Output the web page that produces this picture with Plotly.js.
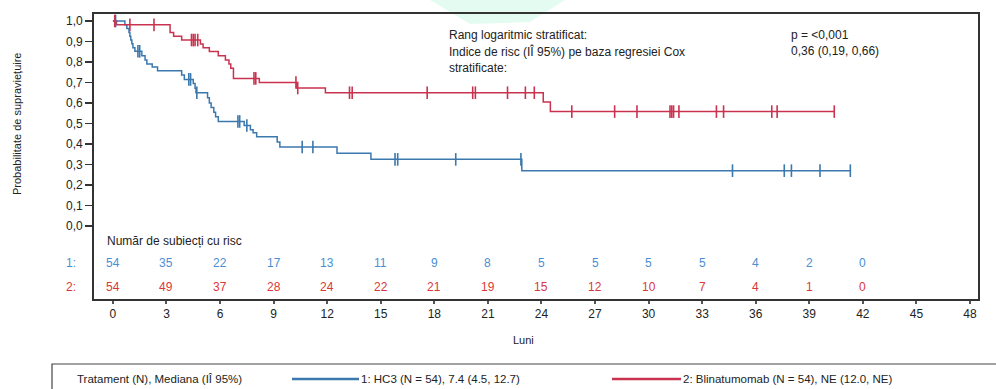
<!DOCTYPE html>
<html>
<head>
<meta charset="utf-8">
<script src="https://cdn.plot.ly/plotly-3.0.1.min.js"></script>
<style>html,body{margin:0;padding:0;background:#fff;}#chart{width:996px;height:389px;}</style>
</head>
<body>
<div id="chart"></div>
<script>
// ---- Data ----
const hc3Times = [0, 0.67, 0.78, 0.9, 0.95, 1.0, 1.06, 1.12, 1.23, 1.62, 1.8, 1.9, 2.2, 2.5, 3.85, 4.0, 4.5, 4.6, 4.65, 5.3, 5.4, 5.5, 5.65, 5.75, 5.9, 7.35, 7.7, 7.85, 8.05, 9.2, 9.35, 12.55, 14.45, 22.9, 41.3];
const hc3Surv  = [1.0, 0.981, 0.963, 0.944, 0.926, 0.907, 0.889, 0.870, 0.852, 0.830, 0.810, 0.790, 0.775, 0.757, 0.737, 0.715, 0.695, 0.672, 0.650, 0.625, 0.600, 0.578, 0.555, 0.533, 0.510, 0.490, 0.470, 0.455, 0.435, 0.410, 0.385, 0.355, 0.325, 0.270, 0.270];
const hc3Censor = [0.15, 1.4, 1.5, 4.25, 4.35, 4.7, 7.0, 7.1, 7.5, 10.6, 11.2, 15.8, 15.95, 19.2, 22.85, 34.7, 37.6, 38.0, 39.6, 41.3];

const blinTimes = [0, 0.2, 3.2, 3.4, 3.85, 4.9, 5.05, 5.4, 5.9, 6.3, 6.5, 6.6, 6.75, 8.2, 10.3, 11.9, 24.1, 24.5, 40.4];
const blinSurv  = [1.0, 0.981, 0.944, 0.925, 0.907, 0.888, 0.870, 0.851, 0.830, 0.810, 0.790, 0.770, 0.720, 0.700, 0.673, 0.650, 0.605, 0.558, 0.558];
const blinCensor = [0.1, 0.95, 2.3, 4.4, 4.5, 4.6, 4.75, 7.9, 8.0, 10.25, 10.35, 13.25, 13.4, 17.6, 20.15, 20.3, 22.1, 23.1, 23.6, 25.7, 28.1, 29.35, 31.2, 31.3, 31.4, 31.7, 33.8, 34.2, 36.9, 37.2, 40.4];

const riskTimes = [0, 3, 6, 9, 12, 15, 18, 21, 24, 27, 30, 33, 36, 39, 42];
const riskHC3  = [54, 35, 22, 17, 13, 11, 9, 8, 5, 5, 5, 5, 4, 2, 0];
const riskBlin = [54, 49, 37, 28, 24, 22, 21, 19, 15, 12, 10, 7, 4, 1, 0];

const xTicks = [0, 3, 6, 9, 12, 15, 18, 21, 24, 27, 30, 33, 36, 39, 42, 45, 48];
const yTicks = [0, 0.1, 0.2, 0.3, 0.4, 0.5, 0.6, 0.7, 0.8, 0.9, 1.0];

const seriesNames = ['1: HC3 (N = 54), 7.4 (4.5, 12.7)', '2: Blinatumomab (N = 54), NE (12.0, NE)'];
const legendTitle = 'Tratament (N), Mediana (IÎ 95%)';
const statsLeft = ['Rang logaritmic stratificat:', 'Indice de risc (IÎ 95%) pe baza regresiei Cox', 'stratificate:'];
const statsRight = ['p = <0,001', '0,36 (0,19, 0,66)'];
const riskTitle = 'Număr de subiecți cu risc';
const rowLabels = ['1:', '2:'];
const xTitle = 'Luni';
const yTitle = 'Probabilitate de supraviețuire';

// ---- Styles ----
const BLUE = '#3b78ad';
const RED = '#c9334f';
const BLUE_TXT = '#4a8fd2';
const RED_TXT = '#d93838';
const FONT = 'Liberation Sans, Arial, sans-serif';
const NARROW = 'Liberation Sans Narrow, Arial Narrow, Liberation Sans, sans-serif';

function survAt(times, surv, t) {
  let v = surv[0];
  for (let i = 0; i < times.length; i++) { if (times[i] <= t) v = surv[i]; }
  return v;
}

const traces = [
  {x: hc3Times, y: hc3Surv, mode: 'lines', line: {shape: 'hv', color: BLUE, width: 1.5}, name: seriesNames[0], showlegend: false, hoverinfo: 'skip'},
  {x: blinTimes, y: blinSurv, mode: 'lines', line: {shape: 'hv', color: RED, width: 1.5}, name: seriesNames[1], showlegend: false, hoverinfo: 'skip'},
  {x: hc3Censor, y: hc3Censor.map(t => survAt(hc3Times, hc3Surv, t)), mode: 'markers', marker: {symbol: 'line-ns-open', size: 9, color: BLUE, line: {width: 1.6, color: BLUE}}, showlegend: false, hoverinfo: 'skip'},
  {x: blinCensor, y: blinCensor.map(t => survAt(blinTimes, blinSurv, t)), mode: 'markers', marker: {symbol: 'line-ns-open', size: 9, color: RED, line: {width: 1.6, color: RED}}, showlegend: false, hoverinfo: 'skip'}
];

// plot area in pixels: x 94..978, y 14..299
const L = 94, T = 14, W = 884, H = 285;
const px = v => (v - L) / W;
const py = v => (T + H - v) / H;

const annotations = [];
statsLeft.forEach((s, i) => annotations.push({xref: 'paper', yref: 'paper', x: px(447), y: py(35 + i * 16.5), text: s, showarrow: false, xanchor: 'left', yanchor: 'middle', font: {family: FONT, size: 12, color: '#222'}}));
statsRight.forEach((s, i) => annotations.push({xref: 'paper', yref: 'paper', x: px(789), y: py(35 + i * 16.5), text: s, showarrow: false, xanchor: 'left', yanchor: 'middle', font: {family: FONT, size: 12, color: '#222'}}));

annotations.push({xref: 'paper', yref: 'paper', x: px(105), y: py(241), text: riskTitle, showarrow: false, xanchor: 'left', yanchor: 'middle', font: {family: FONT, size: 12, color: '#222'}});
annotations.push({xref: 'paper', yref: 'paper', x: px(78), y: py(263), text: rowLabels[0], showarrow: false, xanchor: 'right', yanchor: 'middle', font: {family: FONT, size: 12, color: BLUE_TXT}});
annotations.push({xref: 'paper', yref: 'paper', x: px(78), y: py(287), text: rowLabels[1], showarrow: false, xanchor: 'right', yanchor: 'middle', font: {family: FONT, size: 12, color: RED_TXT}});
riskTimes.forEach((t, i) => {
  annotations.push({xref: 'x', yref: 'paper', x: t, y: py(263), text: String(riskHC3[i]), showarrow: false, xanchor: 'center', yanchor: 'middle', font: {family: FONT, size: 12, color: BLUE_TXT}});
  annotations.push({xref: 'x', yref: 'paper', x: t, y: py(287), text: String(riskBlin[i]), showarrow: false, xanchor: 'center', yanchor: 'middle', font: {family: FONT, size: 12, color: RED_TXT}});
});

annotations.push({xref: 'paper', yref: 'paper', x: px(523), y: py(340), text: xTitle, showarrow: false, xanchor: 'center', yanchor: 'middle', font: {family: FONT, size: 11, color: '#222'}});
annotations.push({xref: 'paper', yref: 'paper', x: px(17), y: py(124), text: yTitle, textangle: -90, showarrow: false, xanchor: 'center', yanchor: 'middle', font: {family: NARROW, size: 11, color: '#222'}});

// legend box contents
annotations.push({xref: 'paper', yref: 'paper', x: px(75), y: py(379), text: legendTitle, showarrow: false, xanchor: 'left', yanchor: 'middle', font: {family: NARROW, size: 11.5, color: '#222'}});
annotations.push({xref: 'paper', yref: 'paper', x: px(359), y: py(379), text: seriesNames[0], showarrow: false, xanchor: 'left', yanchor: 'middle', font: {family: NARROW, size: 11.5, color: '#222'}});
annotations.push({xref: 'paper', yref: 'paper', x: px(681), y: py(379), text: seriesNames[1], showarrow: false, xanchor: 'left', yanchor: 'middle', font: {family: NARROW, size: 11.5, color: '#222'}});

const shapes = [
  {type: 'path', xref: 'paper', yref: 'paper', layer: 'below', path: `M ${px(430)} ${py(0)} L ${px(565)} ${py(0)} L ${px(530)} ${py(22)} L ${px(470)} ${py(24)} Z`, fillcolor: 'rgba(205,247,232,0.55)', line: {width: 0}},
  {type: 'rect', xref: 'paper', yref: 'paper', x0: px(52), x1: px(1005), y0: py(364), y1: py(400), line: {color: '#444', width: 1.2}, fillcolor: 'rgba(0,0,0,0)'},
  {type: 'line', xref: 'paper', yref: 'paper', x0: px(292), x1: px(359), y0: py(379), y1: py(379), line: {color: BLUE, width: 2.5}},
  {type: 'line', xref: 'paper', yref: 'paper', x0: px(612), x1: px(681), y0: py(379), y1: py(379), line: {color: RED, width: 2.5}}
];

const layout = {
  width: 996, height: 389,
  margin: {l: L, r: 996 - L - W, t: T, b: 389 - T - H, pad: 0},
  paper_bgcolor: '#fff', plot_bgcolor: '#fff',
  separators: ',.',
  showlegend: false,
  font: {family: FONT, size: 12, color: '#222'},
  xaxis: {
    range: [-1.06, 48.45], tickvals: xTicks, ticktext: xTicks.map(String),
    showgrid: false, zeroline: false, showline: true, mirror: true, linecolor: '#333', linewidth: 1.8,
    ticks: 'outside', ticklen: 3, tickwidth: 2, tickcolor: '#555',
    tickfont: {family: FONT, size: 12, color: '#222'}, fixedrange: true
  },
  yaxis: {
    range: [-0.356, 1.034], tickvals: yTicks, tickformat: '.1f',
    showgrid: false, zeroline: false, showline: true, mirror: true, linecolor: '#333', linewidth: 1.8,
    ticks: 'outside', ticklen: 7, tickwidth: 1.5, tickcolor: '#333',
    tickfont: {family: FONT, size: 12, color: '#222'}, fixedrange: true
  },
  annotations: annotations,
  shapes: shapes
};

Plotly.newPlot('chart', traces, layout, {staticPlot: true, displayModeBar: false});
</script>
</body>
</html>
